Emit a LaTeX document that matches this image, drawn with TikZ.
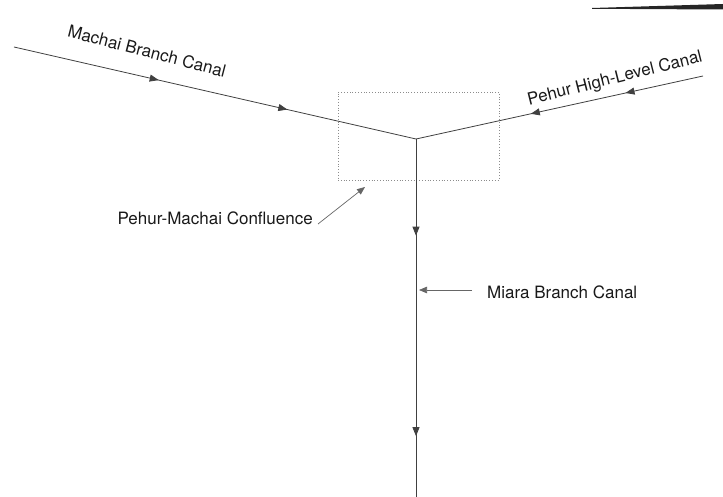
\documentclass[tikz,border=0pt]{standalone}
\usepackage{fontspec}
\setmainfont{TeX Gyre Heros}
\usetikzlibrary{arrows.meta,decorations.markings}

\begin{document}
\begin{tikzpicture}[
    x = 1pt, y = -1pt,
    font = \fontsize{17}{20}\selectfont,
    % canal/.append style = {line width=1pt},
    canal/.style 2 args = {
      draw = black!75, line width = 0.8pt,
      postaction = {decorate},
      decoration = {markings,
        mark = at position #1 with {\arrow{Triangle[length=9pt,width=7pt]}},
        mark = at position #2 with {\arrow{Triangle[length=9pt,width=7pt]}}}
    },
    pointer/.style = {
      draw = black!60, line width = 0.7pt,
      -{Triangle[length=8pt,width=6.5pt]}
    },
    lbl/.style = {inner sep=0pt, text=black!90},
    zone/.style = {draw=black!45, dotted, line width=0.8pt,
      minimum width=161pt, minimum height=88pt}
  ]
  \useasboundingbox (0,0) rectangle (723,497);

  \coordinate (junction) at (416,139);
  \coordinate (machai)   at (14,47);
  \coordinate (pehur)    at (703,76);
  \coordinate (miara)    at (416,497);

  \node (box) [zone] at (418.5,136) {};

  \path [canal={0.36}{0.68}] (machai) -- (junction);
  \path [canal={0.27}{0.60}] (pehur)  -- (junction);
  \path [canal={0.27}{0.83}] (junction) -- (miara);

  \node (machailbl) [lbl, rotate=-14.5] at (147,51) {Machai Branch Canal};
  \node (pehurlbl)  [lbl, rotate=14]    at (615,79) {Pehur High-Level Canal};
  \node (conflbl)   [lbl, anchor=east]  at (313,218) {Pehur-Machai Confluence};
  \node (miaralbl)  [lbl, anchor=west]  at (487,292) {Miara Branch Canal};

  \coordinate (conftip)  at (365,187);
  \coordinate (miaratip) at (419,290);

  \draw [pointer] ([shift={(5,6)}]conflbl.east)    -- (conftip);
  \draw [pointer] ([shift={(-15,-2)}]miaralbl.west) -- (miaratip);

  % scan edge, top right
  \fill [black!85] (592,8) -- (723,4) -- (723,9.5) -- (592,8.8) -- cycle;
\end{tikzpicture}
\end{document}
